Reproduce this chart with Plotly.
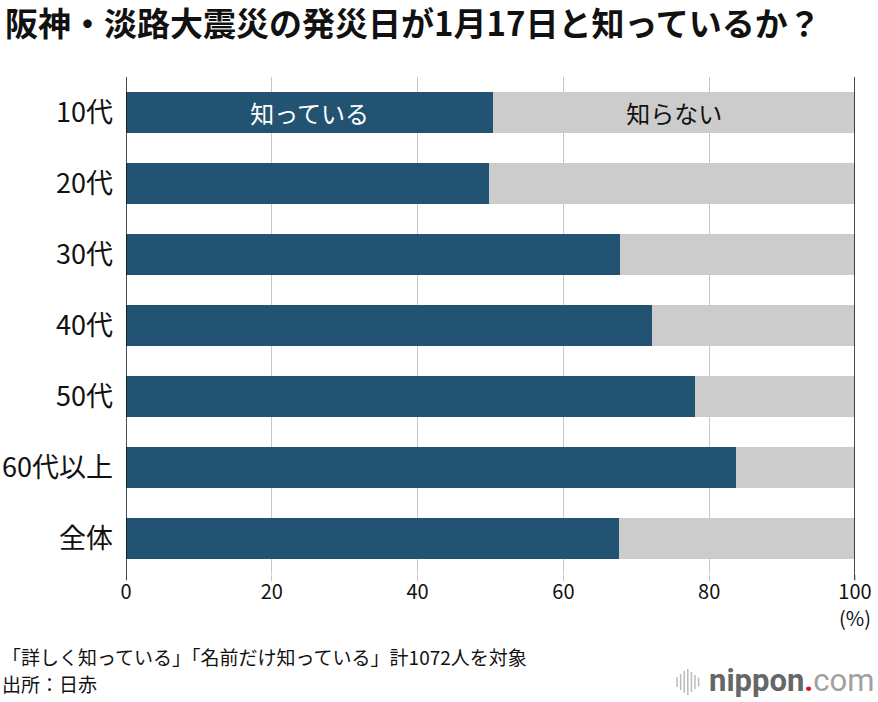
import plotly.graph_objects as go

categories = ["10代", "20代", "30代", "40代", "50代", "60代以上", "全体"]
known = [50.4, 49.8, 67.7, 72.2, 78.1, 83.7, 67.6]
unknown = [round(100 - v, 1) for v in known]
known_text = ["知っている", "", "", "", "", "", ""]
unknown_text = ["知らない", "", "", "", "", "", ""]
x_ticks = [0, 20, 40, 60, 80, 100]

FONT = "Noto Sans CJK JP"
DARK = "#235372"
GREY = "#cccccc"

W, H = 878, 702
L, R, T, B = 126, 23, 77, 128
PW, PH = W - L - R, H - T - B


def px(x):
    return (x - L) / PW


def py(y):
    return (H - B - y) / PH


fig = go.Figure()
fig.add_trace(go.Bar(
    y=categories, x=known, orientation="h", name="知っている",
    marker=dict(color=DARK, line=dict(width=0)),
    text=known_text, textposition="inside", insidetextanchor="middle",
    textfont=dict(color="white", size=24, family=FONT), textangle=0,
))
fig.add_trace(go.Bar(
    y=categories, x=unknown, orientation="h", name="知らない",
    marker=dict(color=GREY, line=dict(width=0)),
    text=unknown_text, textposition="inside", insidetextanchor="middle",
    textfont=dict(color="#111111", size=24, family=FONT), textangle=0,
))

# axis boundary lines at 0 and 100
for xv in (0, 100):
    fig.add_shape(type="line", xref="x", yref="paper", x0=xv, x1=xv,
                  y0=-0.012, y1=1, line=dict(color="#111111", width=1.5), layer="above")

fig.update_layout(
    width=W, height=H,
    margin=dict(l=L, r=R, t=T, b=B, autoexpand=False),
    paper_bgcolor="white", plot_bgcolor="white",
    barmode="stack", bargap=0.41,
    showlegend=False,
    font=dict(family=FONT, color="#111111"),
    title=dict(text="<b>阪神・淡路大震災の発災日が1月17日と知っているか？</b>",
               x=5 / W, xanchor="left", xref="container",
               y=1 - 24 / H, yanchor="middle", yref="container",
               automargin=False,
               font=dict(size=33, family=FONT, color="#111111")),
    xaxis=dict(range=[0, 100], tickvals=x_ticks, ticktext=[str(v) for v in x_ticks],
               showgrid=True, gridcolor="#c8c8c8", gridwidth=1,
               ticks="outside", ticklen=6, tickcolor="#c8c8c8", tickwidth=1,
               ticklabelstandoff=-6,
               zeroline=False, showline=False, automargin=False,
               tickfont=dict(size=20, family=FONT, color="#111111")),
    yaxis=dict(categoryorder="array", categoryarray=categories, autorange="reversed",
               showgrid=False, zeroline=False, showline=False, ticks="",
               ticksuffix="  ", automargin=False,
               tickfont=dict(size=27, family=FONT, color="#111111")),
    hovermode=False,
)

fig.add_annotation(text="(%)", xref="paper", yref="paper", x=1, y=py(617),
                   xanchor="center", yanchor="middle", showarrow=False,
                   font=dict(size=20, family=FONT, color="#111111"))
fig.add_annotation(text="「詳しく知っている」「名前だけ知っている」計1072人を対象",
                   xref="paper", yref="paper", x=px(0), y=py(656),
                   xanchor="left", yanchor="middle", showarrow=False,
                   font=dict(size=19, family=FONT, color="#111111"))
fig.add_annotation(text="出所：日赤",
                   xref="paper", yref="paper", x=px(0), y=py(683),
                   xanchor="left", yanchor="middle", showarrow=False,
                   font=dict(size=19, family=FONT, color="#111111"))

# nippon.com logo (text)
fig.add_annotation(text="<b>nippon</b><span style='color:#e0101b'><b>.</b></span><span style='color:#a0a0a0'>com</span>",
                   xref="paper", yref="paper", x=px(876), y=py(680),
                   xanchor="right", yanchor="middle", showarrow=False,
                   font=dict(size=31, family="Roboto", color="#666666"))
# waveform icon
wave = [10, 16, 22, 26, 20, 14, 9]
for i, h in enumerate(wave):
    xp = 677 + i * 3.6
    fig.add_shape(type="line", xref="paper", yref="paper",
                  x0=px(xp), x1=px(xp),
                  y0=py(682 + h / 2), y1=py(682 - h / 2),
                  line=dict(color="#bbbbbb", width=1.5))

fig.write_html("out.html", config={"displayModeBar": False},
               post_script="document.body.style.margin='0';document.body.style.overflow='hidden';")
